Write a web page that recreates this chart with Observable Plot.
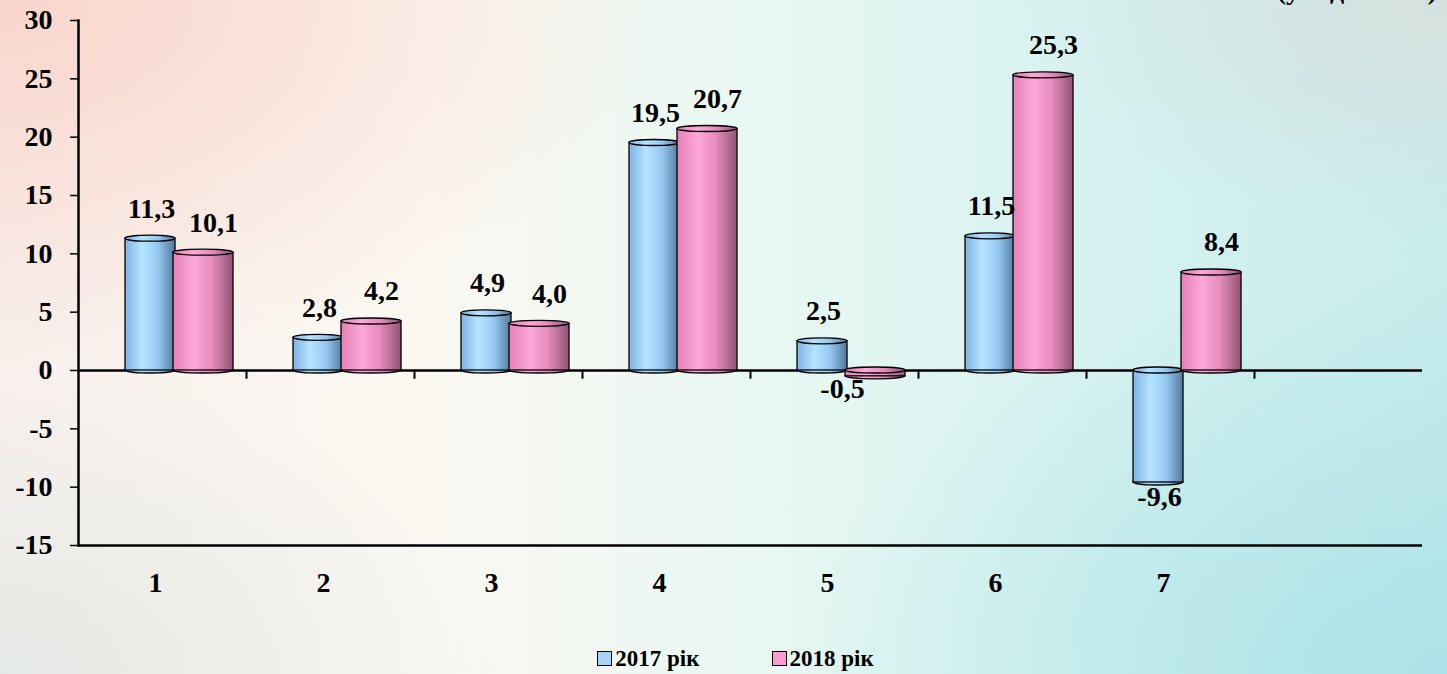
<!DOCTYPE html>
<html>
<head>
<meta charset="utf-8">
<script src="https://cdn.jsdelivr.net/npm/d3@7"></script>
<script src="https://cdn.jsdelivr.net/npm/@observablehq/plot@0.6"></script>
<style>
  html, body { margin: 0; padding: 0; }
  #page {
    position: relative; width: 1447px; height: 674px; overflow: hidden;
    font-family: "Liberation Serif", "DejaVu Serif", serif; font-weight: bold; color: #000;
    background:
      radial-gradient(ellipse 45% 55% at 0% 0%, rgba(250,212,202,0.95), rgba(250,212,202,0) 100%),
      radial-gradient(ellipse 30% 35% at 100% 0%, rgba(215,224,221,0.95), rgba(215,224,221,0) 100%),
      radial-gradient(ellipse 45% 60% at 100% 100%, rgba(170,226,231,0.95), rgba(170,226,231,0) 100%),
      radial-gradient(ellipse 35% 45% at 0% 100%, rgba(228,233,229,0.95), rgba(228,233,229,0) 100%),
      linear-gradient(to right, #f8f0ec 0%, #fbf8f2 30%, #e6f7f2 55%, #d3f1ef 80%, #c8ecec 100%);
  }
  #chart { position: absolute; left: 0; top: 0; }
  #title { position: absolute; right: 10px; top: -24px; font-size: 28px; line-height: 28px; white-space: nowrap; }
  #legend { position: absolute; left: 24px; right: 0; top: 645px; display: flex; justify-content: center; gap: 72px; font-size: 23px; line-height: 27px; }
  .item { display: flex; align-items: center; gap: 3px; }
  .sw { width: 13px; height: 13px; border: 1.5px solid #000; display: inline-block; }
</style>
</head>
<body>
<svg width="0" height="0" style="position:absolute">
  <defs>
    <linearGradient id="g2017" x1="0" x2="1" y1="0" y2="0">
      <stop offset="0%" stop-color="#80b3e4"/>
      <stop offset="35%" stop-color="#b5e3ff"/>
      <stop offset="65%" stop-color="#95c9f1"/>
      <stop offset="100%" stop-color="#56799c"/>
    </linearGradient>
    <linearGradient id="g2018" x1="0" x2="1" y1="0" y2="0">
      <stop offset="0%" stop-color="#e57fb6"/>
      <stop offset="35%" stop-color="#ffa8da"/>
      <stop offset="65%" stop-color="#e58bbd"/>
      <stop offset="100%" stop-color="#925373"/>
    </linearGradient>
  </defs>
</svg>
<div id="page">
  <div id="chart"></div>
  <div id="title">(у відсотках)</div>
  <div id="legend">
    <div class="item"><span class="sw" style="background:#a6d3fb"></span><span>2017 рік</span></div>
    <div class="item"><span class="sw" style="background:#ff9bd0"></span><span>2018 рік</span></div>
  </div>
</div>
<script>
const categories = ["1", "2", "3", "4", "5", "6", "7"];
const values2017 = [11.3, 2.8, 4.9, 19.5, 2.5, 11.5, -9.6];
const values2018 = [10.1, 4.2, 4.0, 20.7, -0.5, 25.3, 8.4];
const seriesNames = ["2017 рік", "2018 рік"];
const yTicks = [-15, -10, -5, 0, 5, 10, 15, 20, 25, 30];
const xDomain = [...categories, ""]; // empty eighth slot, as in the original

const data = categories.flatMap((c, i) => [
  {cat: c, series: seriesNames[0], value: values2017[i]},
  {cat: c, series: seriesNames[1], value: values2018[i]}
]);
const d17 = data.filter(d => d.series === seriesNames[0]);
const d18 = data.filter(d => d.series === seriesNames[1]);
const fmt = v => v.toFixed(1).replace(".", ",");

const W = 1447, H = 620, ML = 78, MR = 25, MT = 20, MB = 75;
const bw = Plot.scale({x: {type: "band", domain: xDomain, range: [ML, W - MR], padding: 0}}).bandwidth;

const bar17 = {insetLeft: 47, insetRight: 71};
const bar18 = {insetLeft: 95, insetRight: 13};
const stroke = {stroke: "#000", strokeWidth: 1.3};

function cylinder(rows, fill, inset) {
  const rx = (bw - inset.insetLeft - inset.insetRight) / 2;
  return [
    Plot.barY(rows, {x: "cat", y1: d => Math.min(0, d.value), y2: d => Math.min(0, d.value), insetTop: -3, insetBottom: -3, rx, ry: 3, fill, ...inset, ...stroke}),
    Plot.barY(rows, {x: "cat", y: "value", fill, ...inset, ...stroke}),
    Plot.barY(rows, {x: "cat", y1: d => Math.max(0, d.value), y2: d => Math.max(0, d.value), insetTop: -3, insetBottom: -3, rx, ry: 3, fill, ...inset, ...stroke})
  ];
}

const labelStyle = {fontSize: 28, fontWeight: "bold", fill: "#000", lineAnchor: "middle"};

const plot = Plot.plot({
  width: W, height: H,
  marginLeft: ML, marginRight: MR, marginTop: MT, marginBottom: MB,
  style: {background: "transparent", fontFamily: "'Liberation Serif', 'DejaVu Serif', serif", fontSize: "28px", fontWeight: "bold", color: "#000"},
  x: {domain: xDomain, padding: 0, label: null},
  y: {domain: [-15, 30], label: null},
  marks: [
    Plot.axisY({ticks: yTicks, tickFormat: d => String(d), tickSize: 8, tickPadding: 18, strokeWidth: 1.5, fontSize: 28, label: null}),
    Plot.axisX({ticks: categories, tickSize: 0, tickPadding: 27, dx: -7, fontSize: 28, label: null}),
    Plot.ruleY([0], {stroke: "#000", strokeWidth: 2.5}),
    Plot.ruleX(xDomain.slice(1), {x: d => d, y1: 0, y2: -0.75, dx: -bw / 2, stroke: "#000", strokeWidth: 2}),
    ...cylinder(d17, "url(#g2017)", bar17),
    ...cylinder(d18, "url(#g2018)", bar18),
    Plot.ruleY([-15], {stroke: "#000", strokeWidth: 2.5}),
    Plot.frame({anchor: "left", stroke: "#000", strokeWidth: 2.5}),
    Plot.text(d17.filter(d => d.value >= 0), {x: "cat", y: "value", text: d => fmt(d.value), dx: -11, dy: -30, ...labelStyle}),
    Plot.text(d17.filter(d => d.value < 0), {x: "cat", y: "value", text: d => fmt(d.value), dx: -11, dy: 15, ...labelStyle}),
    Plot.text(d18.filter(d => d.value >= 0), {x: "cat", y: "value", text: d => fmt(d.value), dx: 51, dy: -30, ...labelStyle}),
    Plot.text(d18.filter(d => d.value < 0), {x: "cat", y: "value", text: d => fmt(d.value), dx: 8, dy: 13, ...labelStyle})
  ]
});
document.getElementById("chart").appendChild(plot);
</script>
</body>
</html>
